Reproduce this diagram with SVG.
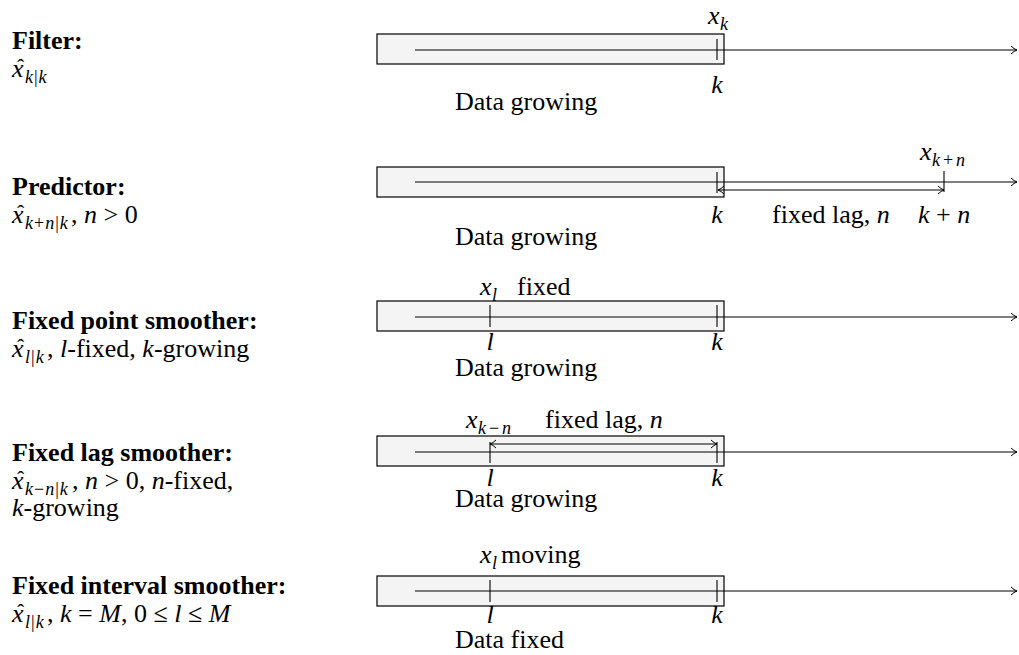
<svg xmlns="http://www.w3.org/2000/svg" width="1019" height="655" viewBox="0 0 1019 655">
  <style>
    text { font-family: "Liberation Serif", "Times New Roman", serif; font-size: 26px; fill: #000; }
    .b { font-weight: bold; }
    .i { font-style: italic; }
    .s { font-size: 18px; font-style: italic; }
    .o { font-size: 18px; }
    .hat { font-size: 22px; }
    .box { fill: #f4f4f4; stroke: #000; stroke-width: 1.2; }
    .ax { stroke: #000; stroke-width: 1.1; fill: none; }
    .tk { stroke: #000; stroke-width: 1.1; }
  </style>
  <defs>
    <marker id="tip" viewBox="0 0 10 10" refX="9" refY="5" markerWidth="10" markerHeight="10" markerUnits="userSpaceOnUse" orient="auto-start-reverse">
      <path d="M3,1 Q6,4 9,5 Q6,6 3,9" fill="none" stroke="#000" stroke-width="1"/>
    </marker>
  </defs>

  <!-- left-hand descriptions -->
  <g id="filter-label">
    <text class="b" x="12" y="49">Filter:</text>
    <text class="i" x="12" y="77">x</text><text class="hat" x="17" y="74">ˆ</text>
    <text x="25" y="83"><tspan class="s">k</tspan><tspan class="o" dx="1">|</tspan><tspan class="s" dx="1">k</tspan></text>
  </g>
  <g id="predictor-label">
    <text class="b" x="12" y="195">Predictor:</text>
    <text class="i" x="12" y="223">x</text><text class="hat" x="17" y="220">ˆ</text>
    <text x="25" y="229"><tspan class="s">k</tspan><tspan class="o" dx="1">+</tspan><tspan class="s" dx="1">n</tspan><tspan class="o" dx="1">|</tspan><tspan class="s" dx="1">k</tspan></text>
    <text x="71" y="223">, <tspan class="i">n</tspan> &gt; 0</text>
  </g>
  <g id="fixed-point-label">
    <text class="b" x="12" y="329">Fixed point smoother:</text>
    <text class="i" x="12" y="357">x</text><text class="hat" x="17" y="354">ˆ</text>
    <text x="25" y="363"><tspan class="s">l</tspan><tspan class="o" dx="1">|</tspan><tspan class="s" dx="1">k</tspan></text>
    <text x="47" y="357">, <tspan class="i">l</tspan>-fixed, <tspan class="i">k</tspan>-growing</text>
  </g>
  <g id="fixed-lag-label">
    <text class="b" x="12" y="461">Fixed lag smoother:</text>
    <text class="i" x="12" y="489">x</text><text class="hat" x="17" y="486">ˆ</text>
    <text x="25" y="495"><tspan class="s">k</tspan><tspan class="o" dx="1">−</tspan><tspan class="s" dx="1">n</tspan><tspan class="o" dx="1">|</tspan><tspan class="s" dx="1">k</tspan></text>
    <text x="72" y="489">, <tspan class="i">n</tspan> &gt; 0, <tspan class="i">n</tspan>-fixed,</text>
    <text x="12" y="516"><tspan class="i">k</tspan>-growing</text>
  </g>
  <g id="fixed-interval-label">
    <text class="b" x="12" y="594">Fixed interval smoother:</text>
    <text class="i" x="12" y="622">x</text><text class="hat" x="17" y="619">ˆ</text>
    <text x="25" y="628"><tspan class="s">l</tspan><tspan class="o" dx="1">|</tspan><tspan class="s" dx="1">k</tspan></text>
    <text x="47" y="622">, <tspan class="i">k</tspan> = <tspan class="i">M</tspan>, 0 ≤ <tspan class="i">l</tspan> ≤ <tspan class="i">M</tspan></text>
  </g>

  <!-- data windows -->
  <g id="filter-window">
    <rect class="box" x="377" y="34" width="347" height="30"/>
    <text class="i" x="708" y="24">x</text><text class="s" x="720" y="30">k</text>
    <text class="i" x="717" y="93" text-anchor="middle">k</text>
    <text x="455" y="110">Data growing</text>
  </g>
  <g id="predictor-window">
    <rect class="box" x="377" y="167" width="347" height="30"/>
    <text class="i" x="920" y="160">x</text><text class="s" x="932" y="166">k</text><text class="o" x="943" y="166">+</text><text class="s" x="956" y="166">n</text>
    <text class="i" x="717" y="223" text-anchor="middle">k</text>
    <text x="772" y="223">fixed lag, <tspan class="i">n</tspan></text>
    <text x="918" y="223"><tspan class="i">k</tspan> + <tspan class="i">n</tspan></text>
    <text x="455" y="245">Data growing</text>
  </g>
  <g id="fixed-point-window">
    <rect class="box" x="377" y="301" width="347" height="30"/>
    <text class="i" x="480" y="295">x</text><text class="s" x="492" y="301">l</text>
    <text x="517" y="295">fixed</text>
    <text class="i" x="490" y="350" text-anchor="middle">l</text>
    <text class="i" x="717" y="350" text-anchor="middle">k</text>
    <text x="455" y="376">Data growing</text>
  </g>
  <g id="fixed-lag-window">
    <rect class="box" x="377" y="436" width="347" height="30"/>
    <text class="i" x="466" y="428">x</text><text class="s" x="478" y="434">k</text><text class="o" x="489" y="434">−</text><text class="s" x="502" y="434">n</text>
    <text x="545" y="428">fixed lag, <tspan class="i">n</tspan></text>
    <text class="i" x="490" y="486" text-anchor="middle">l</text>
    <text class="i" x="717" y="486" text-anchor="middle">k</text>
    <text x="455" y="507">Data growing</text>
  </g>
  <g id="fixed-interval-window">
    <rect class="box" x="377" y="576" width="347" height="30"/>
    <text class="i" x="480" y="563">x</text><text class="s" x="492" y="569">l</text>
    <text x="501" y="563">moving</text>
    <text class="i" x="490" y="623" text-anchor="middle">l</text>
    <text class="i" x="717" y="623" text-anchor="middle">k</text>
    <text x="455" y="648">Data fixed</text>
  </g>

  <!-- time axes, ticks and lag spans -->
  <g id="connectors">
    <line class="ax" x1="415" y1="50" x2="1017" y2="50" marker-end="url(#tip)"/>
    <line class="tk" x1="717" y1="39" x2="717" y2="60"/>

    <line class="ax" x1="415" y1="182" x2="1017" y2="182" marker-end="url(#tip)"/>
    <line class="tk" x1="717" y1="172" x2="717" y2="193"/>
    <line class="tk" x1="944" y1="171" x2="944" y2="192"/>
    <line class="ax" x1="718" y1="190" x2="944" y2="190" marker-start="url(#tip)" marker-end="url(#tip)"/>

    <line class="ax" x1="415" y1="317" x2="1017" y2="317" marker-end="url(#tip)"/>
    <line class="tk" x1="490" y1="305" x2="490" y2="327"/>
    <line class="tk" x1="717" y1="305" x2="717" y2="327"/>

    <line class="ax" x1="415" y1="452" x2="1017" y2="452" marker-end="url(#tip)"/>
    <line class="tk" x1="490" y1="442" x2="490" y2="463"/>
    <line class="tk" x1="717" y1="442" x2="717" y2="463"/>
    <line class="ax" x1="490" y1="444" x2="717" y2="444" marker-start="url(#tip)" marker-end="url(#tip)"/>

    <line class="ax" x1="415" y1="591" x2="1017" y2="591" marker-end="url(#tip)"/>
    <line class="tk" x1="490" y1="580" x2="490" y2="602"/>
    <line class="tk" x1="717" y1="580" x2="717" y2="602"/>
  </g>
</svg>
